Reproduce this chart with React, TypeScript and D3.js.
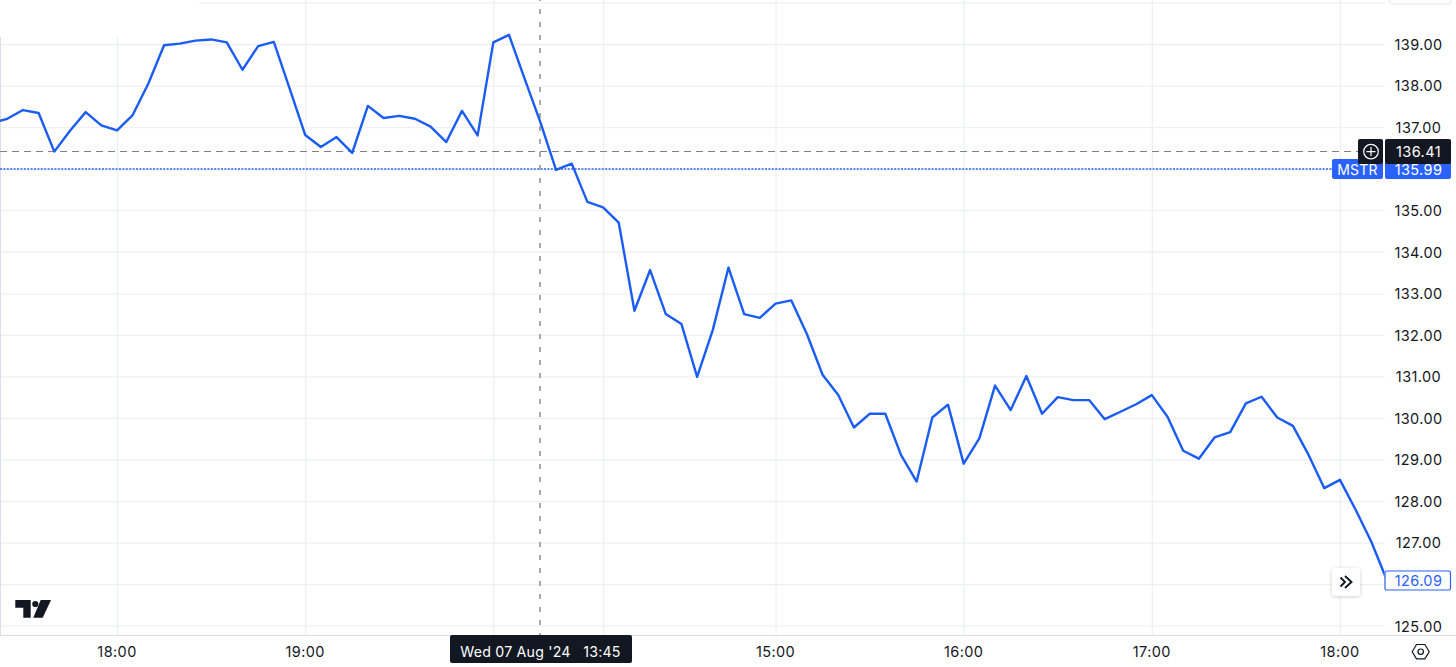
import * as d3 from "d3";
import React, { useRef, useEffect } from "react";

const prices = [
  137.1, 137.2, 137.41, 137.34, 136.41, 136.91, 137.36, 137.04, 136.92, 137.29,
  138.05, 138.97, 139.01, 139.08, 139.11, 139.04, 138.38, 138.95, 139.05, 137.94,
  136.81, 136.52, 136.76, 136.38, 137.51, 137.22, 137.27, 137.2, 137.01, 136.64,
  137.39, 136.8, 139.04, 139.22, 138.16, 137.12, 135.97, 136.12, 135.2, 135.07,
  134.7, 132.58, 133.56, 132.5, 132.26, 130.99, 132.12, 133.62, 132.5, 132.41,
  132.75, 132.83, 132.02, 131.04, 130.55, 129.77, 130.1, 130.1, 129.11, 128.47,
  130.01, 130.32, 128.9, 129.51, 130.78, 130.19, 131.01, 130.1, 130.5, 130.43,
  130.43, 129.97, 130.15, 130.33, 130.55, 130.03, 129.21, 129.02, 129.53, 129.66,
  130.35, 130.51, 130.01, 129.81, 129.11, 128.31, 128.51, 127.79, 127.02, 126.09,
];
// bar index of each time tick, the two under the crosshair label have no text
const timeTicks = [8, 20, 32, 39, 50, 62, 74, 86];
const timeLabels = ["18:00", "19:00", "", "", "15:00", "16:00", "17:00", "18:00"];
const priceTicks = d3.range(125, 141);
const crosshairIndex = 35;
const crosshairPrice = 136.41;
const crosshairTime = "Wed 07 Aug '24   13:45";
const symbol = "MSTR";
const lastClose = 135.99;
const lastPrice = 126.09;

const W = 1456;
const H = 667;
const paneRight = 1384.5;
const paneBottom = 635;
const font = "Inter, 'Noto Sans', sans-serif";
const blue = "#1a5cf4";
const labelBlue = "#2962ff";
const dark = "#131722";
const gridColor = "#eff0f3";
const textSpacing = 0.4;

export default function App() {
  const ref = useRef<SVGSVGElement>(null);

  useEffect(() => {
    const svg = d3.select(ref.current);
    svg.selectAll("*").remove();

    const x = d3.scaleLinear().domain([0, 89]).range([-8.4, 1387]);
    const y = d3.scaleLinear().domain([125, 139]).range([625.7, 44]);

    svg
      .append("defs")
      .append("clipPath")
      .attr("id", "pane")
      .append("rect")
      .attr("width", paneRight)
      .attr("height", paneBottom);

    // price axis, tick lines stretched over the pane as grid
    const yAxis = svg
      .append("g")
      .attr("transform", "translate(" + paneRight + ",0)")
      .call(
        d3
          .axisLeft(y)
          .tickValues(priceTicks)
          .tickSize(paneRight)
          .tickFormat(() => "")
      );
    yAxis.select(".domain").remove();
    yAxis.selectAll("line").attr("stroke", gridColor).attr("stroke-width", 1.3);

    const xAxis = svg
      .append("g")
      .attr("transform", "translate(0," + paneBottom + ")")
      .call(
        d3
          .axisTop(x)
          .tickValues(timeTicks)
          .tickSize(paneBottom)
          .tickFormat(() => "")
      );
    xAxis.select(".domain").remove();
    xAxis.selectAll("line").attr("stroke", gridColor).attr("stroke-width", 1.3);

    // the top left corner of the screenshot is blanked out
    svg.append("rect").attr("width", 199).attr("height", 37).attr("fill", "#fff");

    // pane borders
    svg
      .append("line")
      .attr("x1", 0.5)
      .attr("x2", 0.5)
      .attr("y1", 37)
      .attr("y2", paneBottom)
      .attr("stroke", "#dcdcee");
    svg
      .append("line")
      .attr("x1", 0)
      .attr("x2", W)
      .attr("y1", paneBottom + 0.5)
      .attr("y2", paneBottom + 0.5)
      .attr("stroke", "#dcdce6");

    // price labels
    svg
      .append("g")
      .selectAll("text")
      .data(priceTicks.filter((d) => d !== 136 && d !== 126 && d !== 140))
      .enter()
      .append("text")
      .attr("x", 1418.5)
      .attr("y", (d) => y(d))
      .attr("dy", "0.4em")
      .attr("text-anchor", "middle")
      .attr("font-family", font)
      .attr("font-size", 14.5)
      .attr("letter-spacing", textSpacing)
      .attr("fill", dark)
      .text((d) => d3.format(".2f")(d));

    // time labels
    svg
      .append("g")
      .selectAll("text")
      .data(timeTicks)
      .enter()
      .append("text")
      .attr("x", (d) => x(d))
      .attr("y", 657)
      .attr("text-anchor", "middle")
      .attr("font-family", font)
      .attr("font-size", 14.5)
      .attr("letter-spacing", textSpacing)
      .attr("fill", dark)
      .text((d, i) => timeLabels[i]);

    // last close line
    svg
      .append("line")
      .attr("x1", 0)
      .attr("x2", 1332)
      .attr("y1", 169)
      .attr("y2", 169)
      .attr("stroke", labelBlue)
      .attr("stroke-width", 1.5)
      .attr("stroke-dasharray", "2 1.4");

    // crosshair
    svg
      .append("line")
      .attr("x1", 0)
      .attr("x2", 1358)
      .attr("y1", Math.floor(y(crosshairPrice)) + 0.5)
      .attr("y2", Math.floor(y(crosshairPrice)) + 0.5)
      .attr("stroke", "#808288")
      .attr("stroke-dasharray", "7 5");
    svg
      .append("line")
      .attr("x1", Math.round(x(crosshairIndex)))
      .attr("x2", Math.round(x(crosshairIndex)))
      .attr("y1", -4)
      .attr("y2", paneBottom)
      .attr("stroke", "#a8a9ad")
      .attr("stroke-width", 2)
      .attr("stroke-dasharray", "5 8");

    // price line
    const line = d3
      .line<number>()
      .x((d, i) => x(i))
      .y((d) => y(d));
    svg
      .append("path")
      .datum(prices)
      .attr("clip-path", "url(#pane)")
      .attr("d", line)
      .attr("fill", "none")
      .attr("stroke", blue)
      .attr("stroke-width", 2.4)
      .attr("stroke-linejoin", "round");

    // MSTR and close labels
    svg
      .append("rect")
      .attr("x", 1332)
      .attr("y", 159)
      .attr("width", 51)
      .attr("height", 20)
      .attr("rx", 2)
      .attr("fill", labelBlue);
    svg
      .append("rect")
      .attr("x", 1385)
      .attr("y", 159)
      .attr("width", 66)
      .attr("height", 20)
      .attr("rx", 2)
      .attr("fill", labelBlue);
    svg
      .append("text")
      .attr("x", 1357.5)
      .attr("y", y(lastClose))
      .attr("dy", "0.42em")
      .attr("text-anchor", "middle")
      .attr("font-family", font)
      .attr("font-size", 14)
      .attr("letter-spacing", 0.2)
      .attr("fill", "#fff")
      .text(symbol);
    svg
      .append("text")
      .attr("x", 1418.5)
      .attr("y", y(lastClose))
      .attr("dy", "0.42em")
      .attr("text-anchor", "middle")
      .attr("font-family", font)
      .attr("font-size", 14.5)
      .attr("letter-spacing", textSpacing)
      .attr("fill", "#fff")
      .text(d3.format(".2f")(lastClose));

    // crosshair price label, with the plus button
    svg
      .append("rect")
      .attr("x", 1358)
      .attr("y", 139)
      .attr("width", 25)
      .attr("height", 25)
      .attr("rx", 2)
      .attr("fill", dark);
    svg
      .append("rect")
      .attr("x", 1385)
      .attr("y", 139)
      .attr("width", 66)
      .attr("height", 25)
      .attr("rx", 2)
      .attr("fill", dark);
    const plus = svg
      .append("g")
      .attr("transform", "translate(1371," + y(crosshairPrice) + ")")
      .attr("fill", "none")
      .attr("stroke", "#fff")
      .attr("stroke-width", 1.2);
    plus.append("circle").attr("r", 7.3);
    plus.append("path").attr("d", "M-4.5 0H4.5M0 -4.5V4.5");
    svg
      .append("text")
      .attr("x", 1418.5)
      .attr("y", y(crosshairPrice))
      .attr("dy", "0.4em")
      .attr("text-anchor", "middle")
      .attr("font-family", font)
      .attr("font-size", 14.5)
      .attr("letter-spacing", textSpacing)
      .attr("fill", "#fff")
      .text(d3.format(".2f")(crosshairPrice));

    // last price label
    svg
      .append("rect")
      .attr("x", 1385)
      .attr("y", 571)
      .attr("width", 65.5)
      .attr("height", 19)
      .attr("rx", 1.5)
      .attr("fill", "#fff")
      .attr("stroke", labelBlue)
      .attr("stroke-width", 1.2);
    svg
      .append("text")
      .attr("x", 1418.5)
      .attr("y", y(lastPrice))
      .attr("dy", "0.4em")
      .attr("text-anchor", "middle")
      .attr("font-family", font)
      .attr("font-size", 14.5)
      .attr("letter-spacing", textSpacing)
      .attr("fill", labelBlue)
      .text(d3.format(".2f")(lastPrice));

    // crosshair time label
    svg
      .append("rect")
      .attr("x", 450)
      .attr("y", 635)
      .attr("width", 182)
      .attr("height", 28)
      .attr("rx", 2)
      .attr("fill", dark);
    svg
      .append("text")
      .attr("x", 540.5)
      .attr("y", 657)
      .attr("text-anchor", "middle")
      .attr("font-family", font)
      .attr("font-size", 14.2)
      .attr("letter-spacing", 0.2)
      .attr("fill", "#fff")
      .style("white-space", "pre")
      .text(crosshairTime);

    // scroll to realtime button
    const shadow = svg.select("defs").append("filter").attr("id", "shadow");
    shadow
      .append("feDropShadow")
      .attr("dx", 0)
      .attr("dy", 1)
      .attr("stdDeviation", 2)
      .attr("flood-color", "#000")
      .attr("flood-opacity", 0.18);
    svg
      .append("rect")
      .attr("x", 1332)
      .attr("y", 568)
      .attr("width", 28)
      .attr("height", 28)
      .attr("rx", 4)
      .attr("fill", "#fff")
      .attr("filter", "url(#shadow)");
    svg
      .append("path")
      .attr("d", "M1340.5 577.5L1345 582L1340.5 586.5M1345 576L1351.5 582L1345 588")
      .attr("fill", "none")
      .attr("stroke", dark)
      .attr("stroke-width", 1.9);

    // settings hexagon
    const gear = svg
      .append("g")
      .attr("transform", "translate(1420.7,651.7)")
      .attr("fill", "none")
      .attr("stroke", dark)
      .attr("stroke-width", 1.2);
    gear.append("path").attr("d", "M-8.5 0L-4.2 -7.2H4.2L8.5 0L4.2 7.2H-4.2Z");
    gear.append("circle").attr("r", 2.7);

    // bottom edge of the button cut off at the top right
    svg
      .append("path")
      .attr("d", "M1389.5 0V1A3 3 0 0 0 1392.5 4H1448A3 3 0 0 0 1451 1V0")
      .attr("fill", "none")
      .attr("stroke", "#e4e5ea");

    // tradingview logo
    const logo = svg.append("g").attr("fill", dark);
    logo.append("path").attr("d", "M15.3 600H30.7V617.7H23.3V607.7H15.3Z");
    logo.append("circle").attr("cx", 35.3).attr("cy", 604).attr("r", 3.1);
    logo.append("path").attr("d", "M40.7 600H51L42.7 617.7H33.3Z");
  }, []);

  return (
    <div style={{ position: "absolute", left: 0, top: 0 }}>
      <svg ref={ref} width={W} height={H} style={{ display: "block" }}></svg>
    </div>
  );
}
